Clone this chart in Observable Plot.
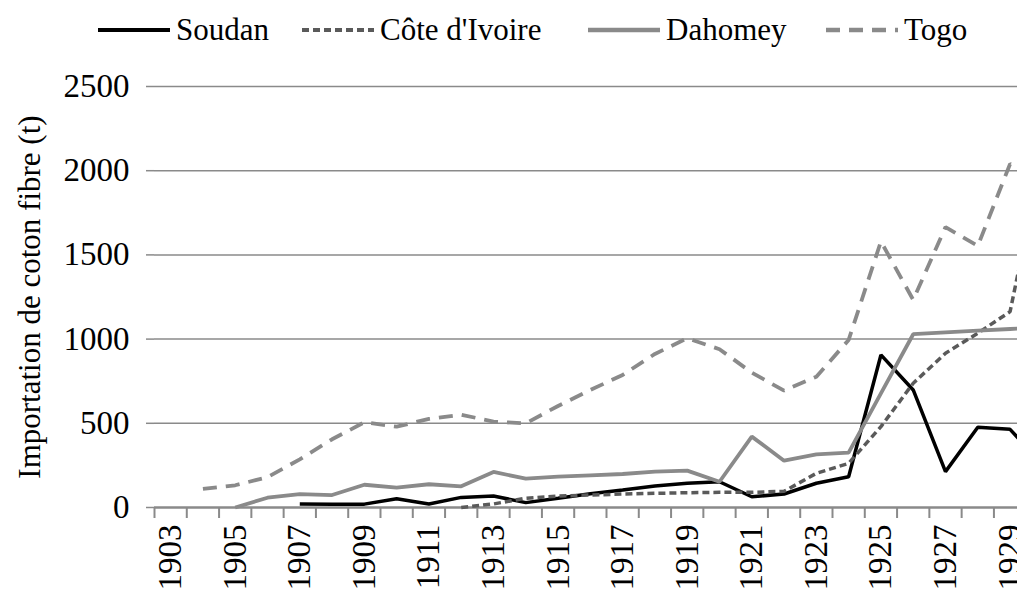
<!DOCTYPE html>
<html>
<head>
<meta charset="utf-8">
<script src="https://cdn.jsdelivr.net/npm/d3@7"></script>
<script src="https://cdn.jsdelivr.net/npm/@observablehq/plot@0.6"></script>
<style>
  html, body { margin: 0; padding: 0; background: #fff; overflow: hidden; width: 1017px; height: 597px; }
  #legend { position: relative; height: 60px; font-family: "Liberation Serif", serif; font-size: 31px; color: #000; }
  .item { position: absolute; top: 12px; display: flex; align-items: center; white-space: nowrap; }
  .item svg { margin-right: 6px; }
  #chart { width: 1058px; }
  #chart svg { display: block; max-width: none !important; }
</style>
</head>
<body>
<div id="legend"></div>
<div id="chart"></div>
<script>
// ---- data ----
const years = [1903,1904,1905,1906,1907,1908,1909,1910,1911,1912,1913,1914,1915,1916,1917,1918,1919,1920,1921,1922,1923,1924,1925,1926,1927,1928,1929,1930];
const soudan     = [null,null,null,null,21,20,20,52,21,60,68,29,55,82,104,128,144,153,64,80,144,183,906,698,213,476,464,256];
const coteIvoire = [null,null,null,null,null,null,null,null,null,0,21,55,68,74,80,84,88,90,90,96,203,262,480,738,916,1035,1163,2090];
const dahomey    = [null,null,0,58,80,74,135,118,138,126,211,171,183,191,199,213,219,153,421,278,316,326,678,1029,1040,1050,1060,1070];
const togo       = [null,110,132,180,286,405,506,480,526,551,510,500,603,698,787,912,1005,940,801,694,777,995,1580,1233,1665,1553,2040,1950];
const seriesNames = ["Soudan", "Côte d'Ivoire", "Dahomey", "Togo"];
const yTicks = [0, 500, 1000, 1500, 2000, 2500];
const yLabel = "Importation de coton fibre (t)";

// ---- styles ----
const styles = {
  "Soudan":        {stroke: "#000000", strokeWidth: 3.5, dash: null},
  "Côte d'Ivoire": {stroke: "#5a5a5a", strokeWidth: 3.5, dash: "7,4"},
  "Dahomey":       {stroke: "#8a8a8a", strokeWidth: 3.8, dash: null},
  "Togo":          {stroke: "#8a8a8a", strokeWidth: 3.8, dash: "14,9"}
};
const values = [soudan, coteIvoire, dahomey, togo];
const rows = seriesNames.flatMap((name, i) => years.map((yr, j) => ({series: name, year: yr, value: values[i][j]})));

const labelYears = years.filter(y => (y - 1903) % 2 === 0);
const boundaries = [years[0] - 0.5, ...years.map(y => y + 0.5)];

const lineMarks = seriesNames.map(name => Plot.line(rows.filter(r => r.series === name), {
  x: "year", y: "value",
  defined: d => d.value != null,
  stroke: styles[name].stroke,
  strokeWidth: styles[name].strokeWidth,
  strokeDasharray: styles[name].dash,
  strokeLinejoin: "miter",
  strokeLinecap: "butt"
}));

const plot = Plot.plot({
  width: 1058,
  height: 537,
  marginLeft: 154,
  marginRight: 0,
  marginTop: 26,
  marginBottom: 90,
  style: {fontFamily: "Liberation Serif, serif", fontSize: "31px", background: "#fff", color: "#000", overflow: "visible", maxWidth: "none"},
  x: {type: "linear", domain: [years[0] - 0.5, years[years.length - 1] + 0.5]},
  y: {domain: [0, 2500]},
  marks: [
    Plot.gridY(yTicks.filter(t => t > 0), {stroke: "#8a8a8a", strokeOpacity: 1, strokeWidth: 1.5}),
    Plot.axisY(yTicks, {tickSize: 8, tickPadding: 17, line: true, stroke: "#8a8a8a", strokeWidth: 1.5, fontSize: 33, fill: "#000", label: null, tickFormat: d => String(d)}),
    Plot.axisX(boundaries, {tickSize: 11, tickFormat: () => "", stroke: "#8a8a8a", strokeWidth: 2, label: null}),
    Plot.axisX(labelYears, {tickSize: 0, tickPadding: 17, tickRotate: -90, fontSize: 33, fill: "#000", label: null, tickFormat: d => String(d)}),
    Plot.ruleY([0], {stroke: "#8a8a8a", strokeWidth: 2.5}),
    Plot.text([yLabel], {text: d => d, frameAnchor: "left", textAnchor: "middle", rotate: -90, dx: -124, fontSize: 31, fill: "#000"}),
    ...lineMarks
  ]
});
document.getElementById("chart").appendChild(plot);

// ---- legend ----
const legendLeft = {"Soudan": 98, "Côte d'Ivoire": 302, "Dahomey": 588, "Togo": 826};
const legend = document.getElementById("legend");
seriesNames.forEach(name => {
  const s = styles[name];
  const item = document.createElement("div");
  item.className = "item";
  item.style.left = legendLeft[name] + "px";
  item.innerHTML = `<svg width="72" height="20"><line x1="0" x2="72" y1="10" y2="10" stroke="${s.stroke}" stroke-width="${s.strokeWidth + 0.5}" ${s.dash ? `stroke-dasharray="${s.dash}"` : ""}/></svg><span>${name}</span>`;
  legend.appendChild(item);
});
</script>
</body>
</html>
